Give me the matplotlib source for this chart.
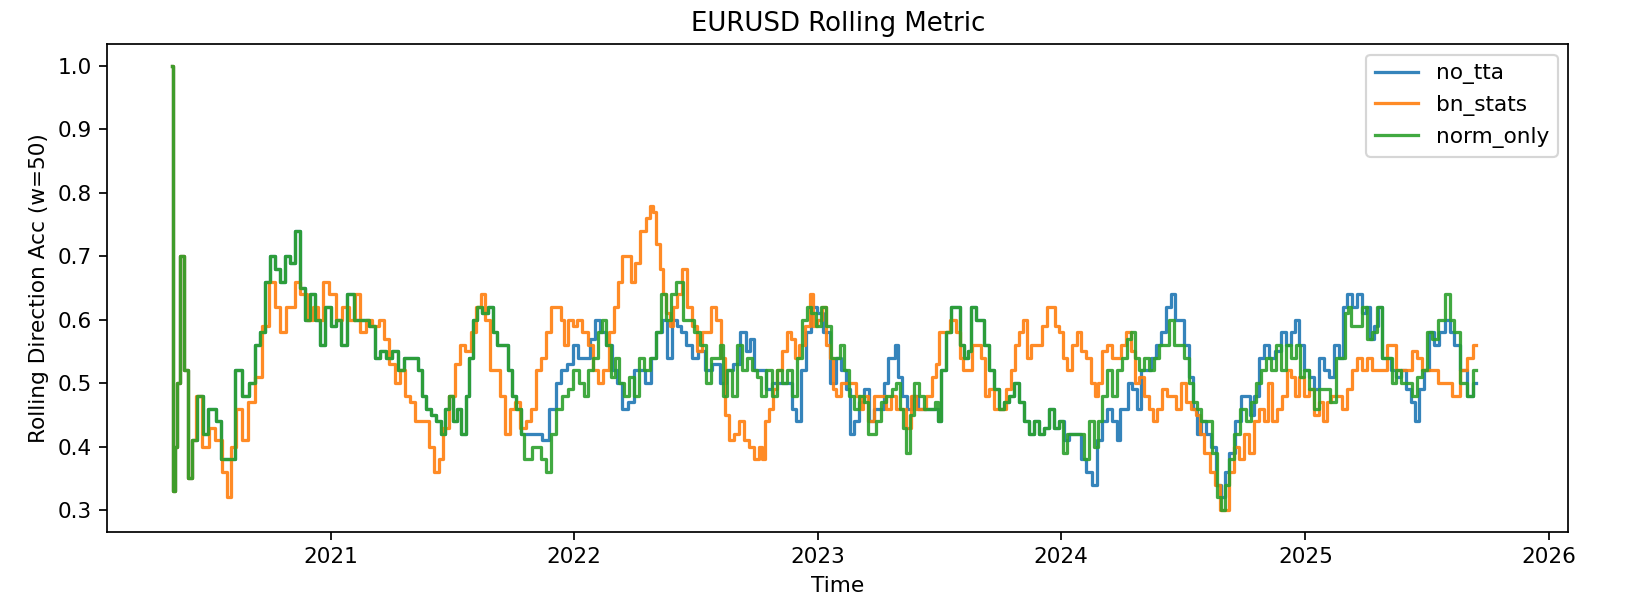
#Rolling direction accuracy for the three TTA variants on EURUSD

import numpy as np
import pandas as pd
import matplotlib
matplotlib.use("Agg")
import matplotlib.pyplot as plt
import matplotlib.dates as mdates

start_date = "2020-05-09"   # first day of the rolling series

# day offsets from start_date and rolling accuracy (w=50)
norm_only_days = [0, 3, 6, 9, 15, 21, 27, 33, 42, 50,
    56, 62, 69, 78, 89, 99, 110, 120, 126, 135,
    141, 150, 158, 164, 173, 180, 188, 195, 203, 210,
    218, 225, 233, 242, 249, 255, 267, 278, 290, 300,
    308, 315, 324, 335, 342, 353, 365, 372, 377, 384,
    392, 399, 405, 413, 417, 425, 429, 437, 443, 447,
    455, 459, 470, 477, 485, 489, 500, 507, 512, 519,
    525, 530, 537, 542, 549, 557, 564, 572, 579, 590,
    597, 605, 615, 620, 627, 635, 642, 647, 653, 660,
    665, 672, 680, 687, 695, 702, 710, 720, 728, 735,
    743, 750, 759, 762, 767, 777, 785, 795, 803, 810,
    818, 822, 827, 834, 842, 849, 857, 864, 872, 879,
    885, 894, 902, 909, 917, 924, 932, 939, 947, 954,
    960, 968, 975, 983, 990, 998, 1002, 1010, 1017, 1025,
    1032, 1040, 1044, 1052, 1058, 1065, 1074, 1082, 1088, 1092,
    1097, 1103, 1107, 1115, 1122, 1130, 1140, 1145, 1149, 1155,
    1163, 1170, 1178, 1182, 1190, 1194, 1200, 1208, 1212, 1220,
    1227, 1235, 1242, 1250, 1257, 1265, 1272, 1280, 1287, 1295,
    1302, 1310, 1317, 1325, 1332, 1337, 1344, 1355, 1362, 1370,
    1377, 1385, 1389, 1397, 1404, 1412, 1419, 1427, 1434, 1440,
    1445, 1452, 1460, 1467, 1475, 1482, 1490, 1497, 1505, 1512,
    1520, 1527, 1532, 1539, 1545, 1554, 1562, 1568, 1574, 1581,
    1587, 1595, 1605, 1613, 1620, 1628, 1635, 1643, 1650, 1658,
    1665, 1673, 1680, 1688, 1692, 1700, 1707, 1715, 1722, 1730,
    1740, 1748, 1755, 1760, 1764, 1770, 1779, 1787, 1794, 1802,
    1809, 1817, 1824, 1830, 1838, 1845, 1854, 1862, 1869, 1877,
    1884, 1892, 1902, 1911, 1917, 1923, 1935, 1944, 1953]
norm_only_acc = [1.00, 0.33, 0.40, 0.50, 0.70, 0.52, 0.35, 0.41, 0.48, 0.42,
    0.46, 0.46, 0.44, 0.38, 0.38, 0.52, 0.48, 0.50, 0.56, 0.58,
    0.66, 0.70, 0.68, 0.66, 0.70, 0.69, 0.74, 0.65, 0.60, 0.64,
    0.60, 0.56, 0.62, 0.59, 0.60, 0.56, 0.64, 0.60, 0.60, 0.59,
    0.54, 0.55, 0.54, 0.55, 0.52, 0.54, 0.54, 0.52, 0.48, 0.46,
    0.45, 0.44, 0.42, 0.46, 0.48, 0.44, 0.46, 0.42, 0.48, 0.54,
    0.60, 0.62, 0.61, 0.62, 0.58, 0.56, 0.56, 0.52, 0.48, 0.46,
    0.42, 0.38, 0.38, 0.40, 0.40, 0.38, 0.36, 0.42, 0.46, 0.48,
    0.49, 0.52, 0.50, 0.48, 0.52, 0.54, 0.58, 0.60, 0.56, 0.51,
    0.54, 0.50, 0.48, 0.51, 0.48, 0.54, 0.52, 0.54, 0.58, 0.64,
    0.60, 0.64, 0.66, 0.66, 0.60, 0.60, 0.58, 0.56, 0.50, 0.54,
    0.54, 0.56, 0.48, 0.52, 0.48, 0.56, 0.52, 0.54, 0.52, 0.51,
    0.48, 0.52, 0.48, 0.52, 0.50, 0.52, 0.48, 0.54, 0.60, 0.62,
    0.61, 0.59, 0.62, 0.59, 0.54, 0.54, 0.56, 0.52, 0.48, 0.46,
    0.48, 0.47, 0.42, 0.42, 0.44, 0.47, 0.48, 0.49, 0.50, 0.46,
    0.43, 0.39, 0.45, 0.50, 0.48, 0.46, 0.46, 0.47, 0.44, 0.52,
    0.58, 0.62, 0.62, 0.56, 0.54, 0.55, 0.62, 0.60, 0.60, 0.56,
    0.52, 0.49, 0.46, 0.47, 0.48, 0.50, 0.47, 0.44, 0.42, 0.44,
    0.42, 0.43, 0.46, 0.43, 0.44, 0.39, 0.42, 0.42, 0.42, 0.38,
    0.44, 0.40, 0.44, 0.48, 0.52, 0.48, 0.52, 0.54, 0.57, 0.58,
    0.54, 0.52, 0.54, 0.52, 0.54, 0.56, 0.56, 0.60, 0.56, 0.56,
    0.54, 0.50, 0.47, 0.46, 0.44, 0.44, 0.39, 0.32, 0.30, 0.34,
    0.38, 0.42, 0.46, 0.44, 0.47, 0.50, 0.52, 0.54, 0.52, 0.56,
    0.52, 0.56, 0.54, 0.56, 0.51, 0.52, 0.49, 0.46, 0.49, 0.49,
    0.47, 0.54, 0.54, 0.61, 0.62, 0.59, 0.59, 0.62, 0.57, 0.58,
    0.62, 0.54, 0.54, 0.50, 0.52, 0.50, 0.50, 0.48, 0.51, 0.52,
    0.58, 0.57, 0.60, 0.64, 0.60, 0.58, 0.50, 0.48, 0.52]

no_tta_days = [0, 3, 6, 9, 15, 21, 27, 33, 42, 50,
    56, 62, 69, 78, 89, 99, 110, 120, 126, 135,
    141, 150, 158, 164, 173, 180, 188, 195, 203, 210,
    218, 225, 233, 242, 249, 255, 267, 278, 290, 300,
    308, 315, 324, 335, 342, 353, 365, 372, 377, 384,
    392, 399, 405, 413, 417, 425, 429, 437, 443, 447,
    455, 459, 470, 477, 485, 489, 500, 507, 512, 519,
    525, 540, 549, 560, 570, 579, 587, 597, 605, 612,
    623, 630, 638, 645, 654, 662, 669, 677, 687, 695,
    702, 713, 720, 729, 737, 744, 752, 759, 765, 774,
    782, 792, 803, 815, 825, 834, 845, 855, 863, 867,
    875, 885, 893, 905, 915, 924, 932, 938, 945, 953,
    962, 969, 980, 990, 998, 1005, 1013, 1017, 1025, 1032,
    1040, 1047, 1055, 1062, 1070, 1074, 1080, 1085, 1089, 1097,
    1104, 1112, 1122, 1134, 1145, 1149, 1155, 1163, 1170, 1178,
    1182, 1190, 1194, 1200, 1208, 1212, 1220, 1227, 1235, 1242,
    1250, 1257, 1265, 1272, 1280, 1287, 1295, 1302, 1310, 1317,
    1325, 1332, 1340, 1347, 1358, 1365, 1373, 1382, 1389, 1397,
    1404, 1412, 1418, 1422, 1430, 1434, 1442, 1448, 1455, 1463,
    1470, 1478, 1485, 1493, 1499, 1505, 1512, 1520, 1527, 1532,
    1538, 1545, 1553, 1560, 1568, 1574, 1581, 1587, 1598, 1605,
    1613, 1617, 1625, 1632, 1640, 1647, 1658, 1665, 1673, 1680,
    1685, 1692, 1700, 1707, 1715, 1722, 1730, 1737, 1745, 1752,
    1757, 1764, 1772, 1779, 1785, 1793, 1797, 1805, 1809, 1815,
    1823, 1830, 1838, 1845, 1853, 1860, 1865, 1872, 1880, 1887,
    1895, 1902, 1911, 1917, 1923, 1935, 1944, 1953]
no_tta_acc = [1.00, 0.33, 0.40, 0.50, 0.70, 0.52, 0.35, 0.41, 0.48, 0.42,
    0.46, 0.46, 0.44, 0.38, 0.38, 0.52, 0.48, 0.50, 0.56, 0.58,
    0.66, 0.70, 0.68, 0.66, 0.70, 0.69, 0.74, 0.65, 0.60, 0.64,
    0.60, 0.56, 0.62, 0.59, 0.60, 0.56, 0.64, 0.60, 0.60, 0.59,
    0.54, 0.55, 0.54, 0.55, 0.52, 0.54, 0.54, 0.52, 0.48, 0.46,
    0.45, 0.44, 0.42, 0.46, 0.48, 0.44, 0.46, 0.42, 0.48, 0.54,
    0.60, 0.62, 0.61, 0.62, 0.58, 0.56, 0.56, 0.52, 0.48, 0.46,
    0.42, 0.42, 0.42, 0.41, 0.46, 0.50, 0.52, 0.53, 0.56, 0.54,
    0.54, 0.57, 0.60, 0.58, 0.56, 0.52, 0.50, 0.46, 0.47, 0.52,
    0.52, 0.50, 0.54, 0.58, 0.60, 0.54, 0.60, 0.59, 0.58, 0.56,
    0.54, 0.55, 0.52, 0.53, 0.50, 0.52, 0.53, 0.58, 0.55, 0.57,
    0.52, 0.52, 0.49, 0.50, 0.50, 0.50, 0.46, 0.44, 0.52, 0.58,
    0.62, 0.61, 0.58, 0.50, 0.54, 0.52, 0.49, 0.42, 0.44, 0.47,
    0.49, 0.44, 0.46, 0.46, 0.50, 0.54, 0.54, 0.56, 0.51, 0.48,
    0.46, 0.48, 0.46, 0.46, 0.46, 0.44, 0.52, 0.58, 0.62, 0.62,
    0.56, 0.54, 0.55, 0.62, 0.60, 0.60, 0.56, 0.52, 0.49, 0.46,
    0.47, 0.48, 0.50, 0.47, 0.44, 0.42, 0.44, 0.42, 0.43, 0.46,
    0.43, 0.44, 0.41, 0.42, 0.42, 0.38, 0.36, 0.34, 0.41, 0.44,
    0.46, 0.44, 0.41, 0.46, 0.46, 0.50, 0.49, 0.46, 0.52, 0.52,
    0.54, 0.56, 0.58, 0.62, 0.64, 0.60, 0.60, 0.56, 0.51, 0.46,
    0.42, 0.44, 0.42, 0.40, 0.34, 0.32, 0.36, 0.39, 0.44, 0.48,
    0.48, 0.45, 0.48, 0.54, 0.56, 0.54, 0.55, 0.58, 0.56, 0.58,
    0.60, 0.56, 0.52, 0.51, 0.49, 0.54, 0.52, 0.51, 0.56, 0.54,
    0.62, 0.64, 0.62, 0.64, 0.61, 0.62, 0.57, 0.59, 0.62, 0.54,
    0.54, 0.52, 0.51, 0.52, 0.49, 0.47, 0.44, 0.49, 0.52, 0.58,
    0.56, 0.58, 0.60, 0.58, 0.56, 0.52, 0.48, 0.50]

bn_stats_days = [0, 3, 6, 9, 15, 21, 27, 33, 38, 50,
    60, 69, 80, 84, 92, 99, 110, 117, 129, 140,
    150, 158, 165, 174, 180, 188, 195, 207, 215, 222,
    230, 240, 249, 260, 270, 278, 285, 294, 305, 315,
    320, 330, 338, 345, 353, 360, 368, 375, 383, 387,
    398, 402, 410, 420, 428, 435, 443, 452, 459, 465,
    473, 480, 488, 495, 503, 510, 518, 525, 534, 542,
    549, 557, 564, 572, 579, 585, 590, 597, 605, 609,
    620, 627, 635, 642, 650, 657, 665, 669, 677, 684,
    690, 695, 705, 713, 717, 722, 728, 732, 737, 743,
    747, 752, 759, 767, 774, 782, 789, 797, 804, 810,
    818, 825, 830, 837, 845, 852, 860, 867, 875, 882,
    885, 890, 897, 902, 909, 917, 924, 930, 935, 942,
    953, 957, 962, 969, 977, 983, 987, 992, 998, 1005,
    1013, 1020, 1028, 1032, 1037, 1047, 1055, 1065, 1073, 1080,
    1088, 1095, 1103, 1110, 1118, 1125, 1134, 1142, 1146, 1152,
    1160, 1170, 1178, 1182, 1187, 1194, 1202, 1209, 1215, 1220,
    1227, 1235, 1239, 1245, 1253, 1260, 1265, 1272, 1277, 1283,
    1290, 1299, 1307, 1313, 1320, 1325, 1332, 1337, 1344, 1352,
    1358, 1365, 1373, 1380, 1385, 1389, 1397, 1404, 1412, 1419,
    1425, 1433, 1440, 1445, 1452, 1460, 1467, 1472, 1479, 1487,
    1493, 1500, 1508, 1515, 1523, 1530, 1538, 1542, 1550, 1559,
    1566, 1574, 1580, 1587, 1595, 1602, 1610, 1617, 1625, 1632,
    1640, 1644, 1652, 1659, 1667, 1673, 1680, 1685, 1692, 1700,
    1707, 1715, 1722, 1727, 1734, 1740, 1749, 1757, 1764, 1772,
    1779, 1787, 1794, 1802, 1809, 1817, 1823, 1830, 1838, 1845,
    1854, 1862, 1869, 1877, 1884, 1892, 1902, 1911, 1923, 1935,
    1944, 1953]
bn_stats_acc = [1.00, 0.33, 0.40, 0.50, 0.70, 0.52, 0.35, 0.41, 0.48, 0.40,
    0.43, 0.41, 0.36, 0.32, 0.40, 0.46, 0.41, 0.47, 0.51, 0.59,
    0.66, 0.62, 0.58, 0.62, 0.62, 0.66, 0.64, 0.60, 0.62, 0.60,
    0.66, 0.64, 0.60, 0.62, 0.60, 0.64, 0.58, 0.60, 0.59, 0.60,
    0.57, 0.53, 0.50, 0.52, 0.48, 0.47, 0.44, 0.44, 0.44, 0.40,
    0.36, 0.38, 0.43, 0.48, 0.53, 0.56, 0.55, 0.58, 0.62, 0.64,
    0.60, 0.52, 0.52, 0.48, 0.42, 0.46, 0.47, 0.43, 0.44, 0.46,
    0.52, 0.54, 0.58, 0.62, 0.62, 0.60, 0.56, 0.60, 0.59, 0.60,
    0.58, 0.56, 0.52, 0.50, 0.52, 0.58, 0.62, 0.66, 0.70, 0.70,
    0.66, 0.69, 0.74, 0.76, 0.78, 0.77, 0.72, 0.68, 0.64, 0.61,
    0.59, 0.62, 0.64, 0.68, 0.62, 0.59, 0.55, 0.58, 0.58, 0.62,
    0.60, 0.54, 0.45, 0.41, 0.42, 0.44, 0.41, 0.40, 0.38, 0.40,
    0.38, 0.44, 0.46, 0.49, 0.52, 0.55, 0.58, 0.57, 0.54, 0.56,
    0.59, 0.64, 0.59, 0.60, 0.62, 0.56, 0.54, 0.49, 0.48, 0.50,
    0.50, 0.50, 0.48, 0.46, 0.48, 0.44, 0.48, 0.48, 0.46, 0.48,
    0.46, 0.46, 0.43, 0.48, 0.46, 0.46, 0.48, 0.51, 0.53, 0.58,
    0.58, 0.60, 0.58, 0.54, 0.52, 0.52, 0.56, 0.56, 0.54, 0.48,
    0.49, 0.46, 0.46, 0.46, 0.49, 0.52, 0.56, 0.58, 0.60, 0.54,
    0.56, 0.56, 0.59, 0.62, 0.62, 0.59, 0.58, 0.54, 0.52, 0.56,
    0.58, 0.55, 0.54, 0.50, 0.48, 0.50, 0.55, 0.56, 0.54, 0.54,
    0.56, 0.58, 0.55, 0.50, 0.51, 0.48, 0.46, 0.44, 0.46, 0.49,
    0.48, 0.48, 0.46, 0.50, 0.47, 0.46, 0.45, 0.42, 0.39, 0.36,
    0.34, 0.30, 0.30, 0.36, 0.40, 0.38, 0.42, 0.39, 0.44, 0.46,
    0.44, 0.50, 0.44, 0.46, 0.48, 0.52, 0.51, 0.48, 0.51, 0.48,
    0.49, 0.45, 0.47, 0.44, 0.47, 0.48, 0.48, 0.46, 0.49, 0.52,
    0.54, 0.52, 0.54, 0.52, 0.52, 0.52, 0.56, 0.56, 0.52, 0.52,
    0.52, 0.55, 0.54, 0.52, 0.52, 0.52, 0.50, 0.50, 0.48, 0.52,
    0.54, 0.56]

series = [("no_tta", no_tta_days, no_tta_acc),
          ("bn_stats", bn_stats_days, bn_stats_acc),
          ("norm_only", norm_only_days, norm_only_acc)]

fig, ax = plt.subplots(figsize=(1632 / 156, 616 / 156), dpi=156)
fig.subplots_adjust(left=0.0656, right=0.961, bottom=0.136, top=0.929)

t0 = pd.Timestamp(start_date)
for name, days, acc in series:
    t = t0 + pd.to_timedelta(np.array(days), unit="D")
    # steps give the blocky look of a 0.02-step rolling mean
    ax.plot(t, acc, label=name, lw=1.5, alpha=0.9, drawstyle="steps-mid")

ax.set_xlim(pd.Timestamp("2020-02-01"), pd.Timestamp("2026-01-30"))
ax.xaxis.set_major_locator(mdates.YearLocator())
ax.xaxis.set_major_formatter(mdates.DateFormatter("%Y"))

ax.set_title("EURUSD Rolling Metric")
ax.set_xlabel("Time")
ax.set_ylabel("Rolling Direction Acc (w=50)")
ax.legend(loc="upper right")

fig.savefig("out.png", dpi=156)
